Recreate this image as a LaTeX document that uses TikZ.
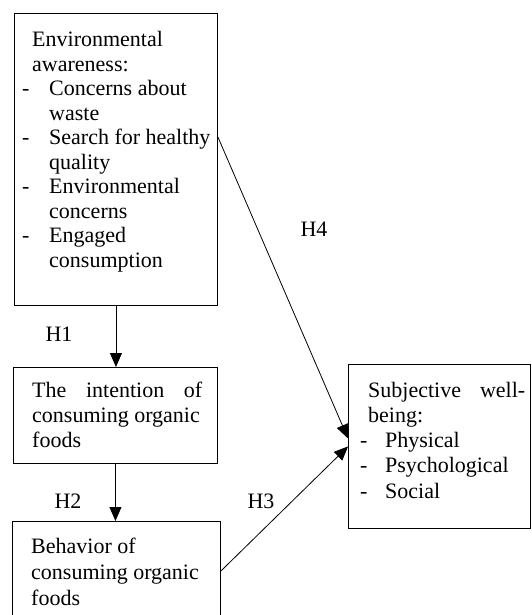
\documentclass[tikz,border=0pt]{standalone}
\usepackage{fontspec}
\setmainfont{Liberation Serif}
\usetikzlibrary{arrows.meta,calc}
\newcommand{\dfont}{\fontsize{22}{24.5}\selectfont}
\begin{document}
\begin{tikzpicture}[x=1pt,y=-1pt,
  box/.style={draw, line width=0.9pt, anchor=north west, inner sep=0pt},
  txt/.style={anchor=base west, inner sep=0pt, font=\dfont},
  lbl/.style={inner sep=0pt, font=\dfont},
  arr/.style={-{Triangle[length=14pt,width=12pt]}, line width=0.8pt}]
\useasboundingbox (0,0) rectangle (531,615);
% boxes
\node[box, minimum width=203pt, minimum height=292pt] (ea) at (14,13) {};
\node[box, minimum width=204pt, minimum height=96pt] (int) at (13,367) {};
\node[box, minimum width=208pt, minimum height=130pt] (beh) at (12,521) {};
\node[box, minimum width=182pt, minimum height=164pt] (swb) at (348,364) {};
% texts
\node[txt] (eat) at (22,47) {\parbox[t]{195pt}{\dfont\raggedright
\hspace*{10pt}Environmental\\
\hspace*{10pt}awareness:\\
\makebox[27pt][l]{-}Concerns about\\
\hspace*{27pt}waste\\
\makebox[27pt][l]{-}Search for healthy\\
\hspace*{27pt}quality\\
\makebox[27pt][l]{-}Environmental\\
\hspace*{27pt}concerns\\
\makebox[27pt][l]{-}Engaged\\
\hspace*{27pt}consumption}};
\node[txt] (intt) at (32,397) {\parbox[t]{180pt}{\fontsize{22}{25}\selectfont\raggedright
\makebox[170pt][s]{The intention of}\\
consuming organic\\
foods}};
\node[txt] (beht) at (31,553) {\parbox[t]{185pt}{\fontsize{22}{26}\selectfont\raggedright
Behavior of\\
consuming organic\\
foods}};
\node[txt] (swbt) at (360,397) {\parbox[t]{170pt}{\fontsize{22}{25.3}\selectfont\raggedright
\hspace*{8pt}\makebox[157pt][s]{Subjective well-}\\
\hspace*{8pt}being:\\
\makebox[25pt][l]{-}Physical\\
\makebox[25pt][l]{-}Psychological\\
\makebox[25pt][l]{-}Social}};
% connectors
\coordinate (h4s) at ($(ea.north east)+(0,124)$);
\coordinate (h4e) at ($(swb.west)+(0,-8)$);
\coordinate (h3s) at ($(beh.north east)+(0,50)$);
\draw[arr] (ea.south) -- (ea.south |- int.north);
\draw[arr] (int.south) -- (int.south |- beh.north);
\draw[arr] (h3s) -- (swb.west);
\draw[arr] (h4s) -- (h4e);
% labels
\node[lbl] (l1) at (59,334) {H1};
\node[lbl] (l2) at (68,501) {H2};
\node[lbl] (l3) at (261,501) {H3};
\node[lbl] (l4) at (314,229) {H4};
\end{tikzpicture}
\end{document}
